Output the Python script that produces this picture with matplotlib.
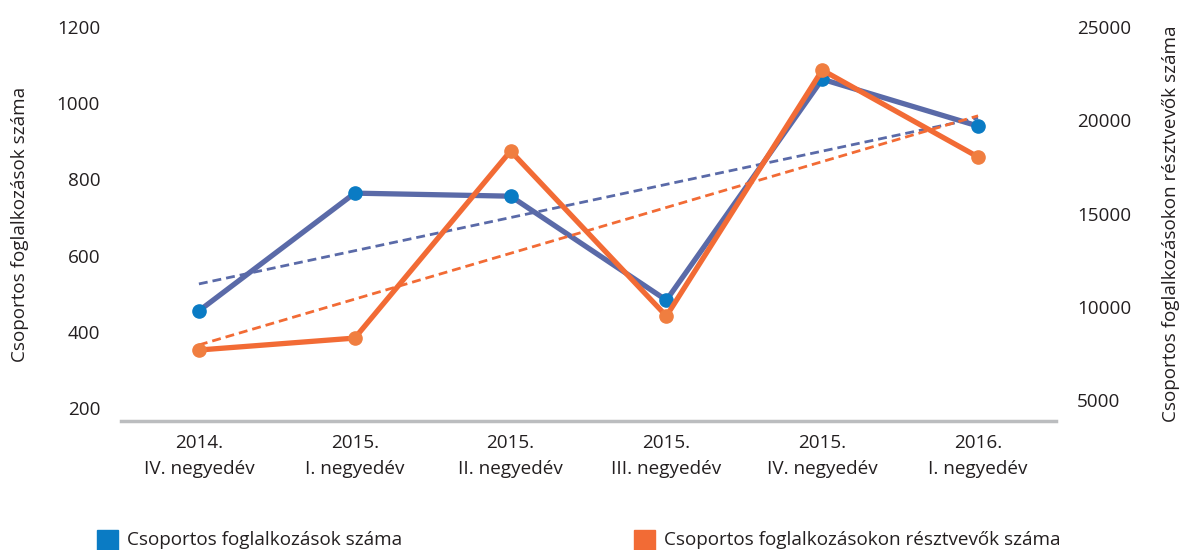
import matplotlib
matplotlib.use("Agg")
import matplotlib.pyplot as plt
from matplotlib.patches import Rectangle
import numpy as np

plt.rcParams['font.family'] = ['Open Sans', 'DejaVu Sans']

categories = ["2014.\nIV. negyedév", "2015.\nI. negyedév", "2015.\nII. negyedév",
              "2015.\nIII. negyedév", "2015.\nIV. negyedév", "2016.\nI. negyedév"]
foglalkozasok = [455, 764, 756, 483, 1063, 940]
resztvevok = [7680, 8320, 18350, 9500, 22690, 18030]
left_ticks = [200, 400, 600, 800, 1000, 1200]
right_ticks = [5000, 10000, 15000, 20000, 25000]

series1_name = "Csoportos foglalkozások száma"
series2_name = "Csoportos foglalkozásokon résztvevők száma"

line_blue = "#5A6AA8"
mark_blue = "#0A7BC4"
line_orange = "#F26B35"
mark_orange = "#F07E40"
txt = "#231F20"
fs = 13.6

W, H = 1179, 550
fig = plt.figure(figsize=(W / 100, H / 100), dpi=100)
ax = fig.add_axes([121 / W, 1 - 421 / H, (1056 - 121) / W, (421 - 27) / H])
ax2 = ax.twinx()

x = np.arange(len(categories))

# trend lines
c1 = np.polyfit(x, foglalkozasok, 1)
c2 = np.polyfit(x, resztvevok, 1)
ax.plot(x, np.polyval(c1, x), ls=(0, (3.2, 1.8)), lw=2.0, color=line_blue, zorder=2)
ax.plot(x, foglalkozasok, color=line_blue, lw=3.8, zorder=3)
ax.plot(x, foglalkozasok, ls='none', marker='o', ms=9.5, color=mark_blue, zorder=4)

ax2.plot(x, np.polyval(c2, x), ls=(0, (3.2, 1.8)), lw=2.0, color=line_orange, zorder=2)
ax2.plot(x, resztvevok, color=line_orange, lw=3.8, zorder=3)
ax2.plot(x, resztvevok, ls='none', marker='o', ms=9.5, color=mark_orange, zorder=4)

ax.set_xlim(-0.5, 5.5)
ax.set_ylim(166, 1200)
ax2.set_ylim(3874, 25000)

ax.set_yticks(left_ticks)
ax.set_yticklabels([str(v) for v in left_ticks])
ax2.set_yticks(right_ticks)
ax2.set_yticklabels([str(v) for v in right_ticks])
ax.set_xticks(x)
ax.set_xticklabels(categories, linespacing=1.6)

for a in (ax, ax2):
    for s in a.spines.values():
        s.set_visible(False)
    a.tick_params(length=0, labelsize=fs, colors=txt)
ax.spines['bottom'].set_visible(True)
ax.spines['bottom'].set_color("#BBBDBF")
ax.spines['bottom'].set_linewidth(2.5)
ax.tick_params(axis='y', pad=15)
ax2.tick_params(axis='y', pad=15)
ax.tick_params(axis='x', pad=9)

ax.set_ylabel(series1_name, fontsize=fs, color=txt, labelpad=20)
ax2.set_ylabel(series2_name, fontsize=fs, color=txt, labelpad=22)

# legend
fig.patches.append(Rectangle((97 / W, 1 - 551 / H), 21 / W, 21 / H, transform=fig.transFigure,
                             color=mark_blue, clip_on=False))
fig.text(127 / W, 1 - 540 / H, series1_name, fontsize=fs, color=txt, va='center', ha='left')
fig.patches.append(Rectangle((634 / W, 1 - 551 / H), 21 / W, 21 / H, transform=fig.transFigure,
                             color=line_orange, clip_on=False))
fig.text(664 / W, 1 - 540 / H, series2_name, fontsize=fs, color=txt, va='center', ha='left')

fig.savefig("out.png", dpi=100)
